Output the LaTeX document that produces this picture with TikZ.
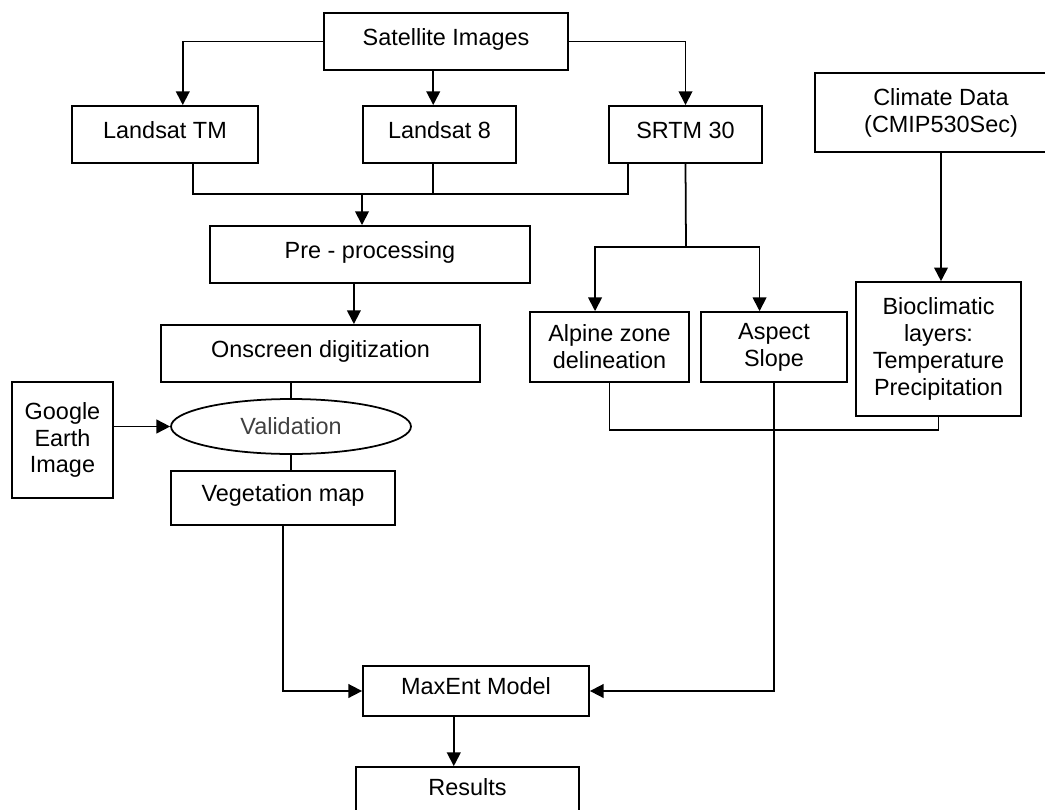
\documentclass[tikz,border=0pt]{standalone}
\usepackage{fontspec}
\setmainfont{Liberation Sans}
\usetikzlibrary{arrows.meta, shapes.geometric}

\begin{document}
\begin{tikzpicture}[x=0.018cm, y=-0.018cm, line width=0.9pt,
  font=\fontsize{12}{13.8}\selectfont, >={Triangle[length=7pt,width=7pt]}]
\tikzset{
  box/.style 2 args={draw, align=center, inner sep=2pt, minimum width=#1cm, minimum height=#2cm},
  one/.style={text height=9pt, text depth=5pt},
  oval/.style={draw, ellipse, inner sep=1pt, minimum width=4.32cm, minimum height=0.99cm, text=black!75}
}
\useasboundingbox (0,0) rectangle (1045,809);

\node[box={4.39}{1.03}, one] (Sat) at (446,41.5) {Satellite Images};
\node[box={3.35}{1.03}, one] (LTM) at (165,134.5) {Landsat TM};
\node[box={2.75}{1.03}, one] (L8) at (439.5,134.5) {Landsat 8};
\node[box={2.75}{1.03}, one] (SRTM) at (685.5,134.5) {SRTM 30};
\node[box={4.54}{1.42}] (Clim) at (941,112.5) {Climate Data\\(CMIP530Sec)};
\node[box={5.76}{1.03}, one] (Pre) at (370,254.5) {Pre - processing};
\node[box={5.74}{1.03}, one] (Dig) at (320.5,353.5) {Onscreen digitization};
\node[oval] (Val) at (291,426.5) {Validation};
\node[box={4.03}{0.97}, one] (Veg) at (283,498) {Vegetation map};
\node[box={1.82}{2.09}] (GE) at (62.5,440) {Google\\Earth\\Image};
\node[box={2.86}{1.26}] (Alp) at (609.5,347) {Alpine zone\\delineation};
\node[box={2.63}{1.26}] (Asp) at (774,347) {Aspect\\Slope};
\node[box={2.97}{2.41}] (Bio) at (938.5,349) {Bioclimatic\\layers:\\Temperature\\Precipitation};
\node[box={4.07}{0.9}, one] (Max) at (476,691) {MaxEnt Model};
\node[box={4.01}{0.9}, one] (Res) at (467.5,792) {Results};

\coordinate (J1) at (362,194);
\coordinate (J2) at (686,247);

\draw[->] (Sat.west) -| ([xshift=0.32cm]LTM.north);
\draw[->] ([xshift=-0.23cm]Sat.south) -- ([xshift=-0.23cm]Sat.south |- L8.north);
\draw[->] (Sat.east) -| (SRTM.north);
\draw ([xshift=0.5cm]LTM.south) |- (J1);
\draw ([xshift=-1.04cm]SRTM.south) |- (J1);
\draw ([xshift=-0.12cm]L8.south) -- ([xshift=-0.12cm]L8.south |- J1);
\draw[->] (J1) -- (J1 |- Pre.north);
\draw[->] ([xshift=-0.29cm]Pre.south) -- ([xshift=-0.29cm]Pre.south |- Dig.north);
\draw (Dig.south -| Val.north) -- (Val.north);
\draw (Val.south) -- (Val.south |- Veg.north);
\draw[->] (GE.east |- Val.west) -- (Val.west);
\draw[->] (Veg.south) |- (Max.west);

\draw (SRTM.south) -- (J2);
\draw[->] (J2) -| ([xshift=-0.26cm]Alp.north);
\draw[->] (J2) -| ([xshift=-0.26cm]Asp.north);
\draw[->] (Clim.south) -- (Clim.south |- Bio.north);
\draw (Alp.south) -- ++(0,47) -| (Bio.south);
\draw[->] (Asp.south) |- (Max.east);
\draw[->] ([xshift=-0.4cm]Max.south) -- ([xshift=-0.4cm]Max.south |- Res.north);
\end{tikzpicture}
\end{document}
